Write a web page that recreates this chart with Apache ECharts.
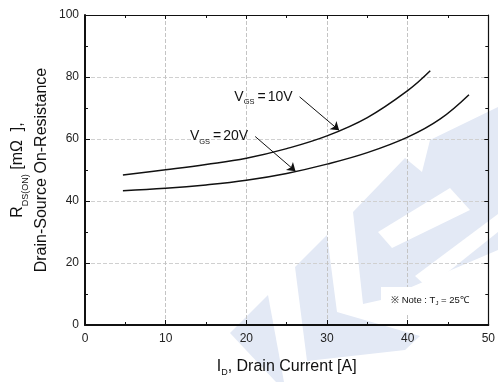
<!DOCTYPE html>
<html>
<head>
<meta charset="utf-8">
<script src="https://cdn.jsdelivr.net/npm/echarts@6/dist/echarts.min.js"></script>
<style>
  html, body { margin: 0; padding: 0; background: #fff; }
  #chart { width: 498px; height: 382px; }
</style>
</head>
<body>
<div id="chart"></div>
<script>
const FONT = '"Liberation Sans", Arial, sans-serif';
const INK = '#111';
const WM = '#e3e9f5';

// drain current [A] and on-resistance [mOhm]
const current10 = [4.7, 10, 15, 20, 25, 30, 35, 40, 42.8];
const rds10 = [48.4, 50.1, 51.8, 53.8, 56.9, 61.0, 66.9, 75.6, 82.0];
const current20 = [4.7, 10, 15, 20, 25, 30, 35, 40, 44, 47.6];
const rds20 = [43.3, 44.1, 45.2, 46.7, 48.9, 51.9, 55.6, 60.6, 66.4, 74.3];

// arrow [from, to] in data units, label sits left of the start
const arrow10 = [[26.6, 73.6], [31.5, 62.8]];
const arrow20 = [[21.1, 60.8], [26.1, 49.6]];

const xTicks = { min: 0, max: 50, interval: 10 };
const yTicks = { min: 0, max: 100, interval: 20 };

const zip = (xs, ys) => xs.map((x, i) => [x, ys[i]]);

const vgsRich = {
  v: { fontFamily: FONT, fontSize: 14, lineHeight: 18, color: INK },
  s: { fontFamily: FONT, fontSize: 7.5, lineHeight: 9, color: INK, verticalAlign: 'bottom' },
  e: { fontFamily: FONT, fontSize: 14, lineHeight: 18, color: INK, padding: [0, 2, 0, 3] },
};

function curve(name, xs, ys, arrow, label) {
  return {
    name,
    type: 'line',
    data: zip(xs, ys),
    smooth: 0.4,
    symbol: 'none',
    lineStyle: { color: INK, width: 1.5 },
    silent: true,
    markLine: {
      silent: true,
      symbol: ['none', 'arrow'],
      symbolSize: 8,
      lineStyle: { color: INK, width: 1, type: 'solid' },
      label: { show: false },
      data: [[{ coord: arrow[0] }, { coord: arrow[1] }]],
    },
    markPoint: {
      silent: true,
      symbol: 'circle',
      symbolSize: 0,
      data: [{ coord: arrow[0] }],
      label: {
        show: true,
        position: 'left',
        distance: 7,
        formatter: label,
        rich: vgsRich,
      },
    },
  };
}

const chart = echarts.init(document.getElementById('chart'));

const baseAxis = {
  axisLine: { lineStyle: { color: INK, width: 2 } },
  axisTick: { inside: true, length: 5, lineStyle: { color: INK, width: 1 } },
  minorTick: { show: true, splitNumber: 2, length: 3, lineStyle: { color: INK, width: 1 } },
};
const mirror = {
  axisLine: { show: true, onZero: false, lineStyle: { color: INK, width: 1.2 } },
  axisTick: { inside: true, length: 4, lineStyle: { color: INK } },
  minorTick: { show: true, splitNumber: 2, length: 3, lineStyle: { color: INK } },
  axisLabel: { show: false },
  splitLine: { show: false },
};

chart.setOption({
  backgroundColor: '#fff',
  animation: false,
  grid: { left: 85, right: 3, top: 15, bottom: 55 },
  graphic: {
    elements: [
      // faint watermark behind the plot
      { type: 'polygon', z: -1, shape: { points: [[230, 333], [268, 295], [284, 382], [276, 382]] }, style: { fill: WM } },
      { type: 'polygon', z: -1, shape: { points: [[295, 267], [327, 235], [337, 312], [420, 336], [405, 350], [307, 361]] }, style: { fill: WM } },
      { type: 'polygon', z: -1, shape: { points: [[353, 212], [405, 158], [422, 172], [430, 140], [498, 107], [498, 250], [381, 300], [363, 304]] }, style: { fill: WM } },
      { type: 'polygon', z: -1, shape: { points: [[378, 232], [392, 248], [470, 210], [450, 188]] }, style: { fill: '#fff' } },
      { type: 'polygon', z: -1, shape: { points: [[415, 276], [428, 288], [498, 232], [498, 214]] }, style: { fill: '#fff' } },
      { type: 'rect', z: 10, shape: { x: 381, y: 287, width: 96, height: 27 }, style: { fill: '#fff' } },
      {
        type: 'text', z: 11, left: 391, top: 295,
        style: {
          text: '{a|※ Note : T}{b|J}{a| = 25℃}',
          rich: {
            a: { fontFamily: FONT, fontSize: 9.5, lineHeight: 12, fill: INK },
            b: { fontFamily: FONT, fontSize: 6, lineHeight: 7, fill: INK, verticalAlign: 'bottom' },
          },
        },
      },
    ],
  },
  xAxis: [{
    type: 'value',
    ...xTicks,
    ...baseAxis,
    name: '{n|I}{s|D}{n|, Drain Current [A]}',
    nameLocation: 'middle',
    nameGap: 32,
    nameMoveOverlap: false,
    nameTextStyle: {
      rich: {
        n: { fontFamily: FONT, fontSize: 16, lineHeight: 20, color: INK },
        s: { fontFamily: FONT, fontSize: 9, lineHeight: 11, color: INK, verticalAlign: 'bottom' },
      },
    },
    axisLabel: { color: '#222', fontFamily: FONT, fontSize: 12, margin: 8 },
    splitLine: { show: true, lineStyle: { color: '#c4c4c4', width: 1, type: [4, 2] } },
  }, {
    type: 'value', position: 'top', ...xTicks, ...mirror,
  }],
  yAxis: [{
    type: 'value',
    ...yTicks,
    ...baseAxis,
    name: '{n|R}{s|DS(ON)}{n| [mΩ  ],}\n{n|Drain-Source On-Resistance}',
    nameLocation: 'middle',
    nameRotate: 90,
    nameGap: 31,
    nameMoveOverlap: false,
    nameTextStyle: {
      align: 'center',
      rich: {
        n: { fontFamily: FONT, fontSize: 16, lineHeight: 24, color: INK },
        s: { fontFamily: FONT, fontSize: 9, lineHeight: 12, color: INK, verticalAlign: 'bottom' },
      },
    },
    axisLabel: { color: '#222', fontFamily: FONT, fontSize: 12, margin: 6 },
    splitLine: { show: true, lineStyle: { color: '#d0d0d0', width: 1, type: [4, 2] } },
  }, {
    type: 'value', position: 'right', ...yTicks, ...mirror,
  }],
  series: [
    curve('VGS=10V', current10, rds10, arrow10, '{v|V}{s|GS}{e|=}{v|10V}'),
    curve('VGS=20V', current20, rds20, arrow20, '{v|V}{s|GS}{e|=}{v|20V}'),
  ],
});
</script>
</body>
</html>
